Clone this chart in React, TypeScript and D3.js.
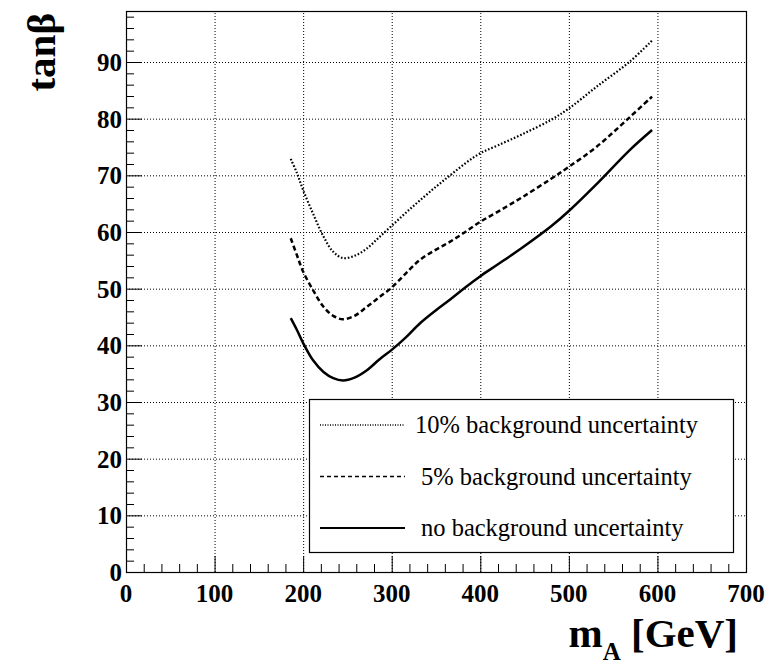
import React from 'react';
import * as d3 from 'd3';

// mA grid (GeV) shared by the three curves
const massPoints = [186, 193, 200, 211, 223, 234, 245, 258, 272, 286, 300, 316, 332, 350, 366, 383, 400, 420, 448, 480, 500, 531, 569, 594];

const tanb10 = [72.9, 70.4, 67.4, 63.3, 59.2, 56.5, 55.4, 55.8, 57.1, 59.1, 61.1, 63.4, 65.6, 68.0, 70.0, 72.1, 73.9, 75.3, 77.3, 79.8, 81.8, 85.6, 90.1, 93.8];
const tanb5 = [58.9, 55.9, 53.0, 49.8, 46.8, 45.2, 44.6, 45.2, 46.8, 48.5, 50.2, 52.7, 55.1, 56.9, 58.3, 60.0, 61.8, 63.6, 66.2, 69.4, 71.5, 75.0, 80.3, 83.9];
const tanb0 = [44.8, 42.7, 40.4, 37.4, 35.3, 34.2, 33.8, 34.3, 35.6, 37.5, 39.2, 41.4, 43.9, 46.2, 48.1, 50.2, 52.2, 54.3, 57.3, 61.0, 63.7, 68.4, 74.5, 78.0];

const seriesLabels = ['10% background uncertainty', '5% background uncertainty', 'no background uncertainty'];
const xTicks = [0, 100, 200, 300, 400, 500, 600, 700];
const yTicks = [0, 10, 20, 30, 40, 50, 60, 70, 80, 90];

const W = 770;
const H = 667;
const margin = { left: 126, right: 24, top: 11, bottom: 95 };
const font = '"Liberation Serif", "Times New Roman", serif';

function App() {
  const ref = React.useRef<SVGSVGElement>(null);

  React.useEffect(() => {
    const svg = d3.select(ref.current);
    svg.selectAll('*').remove();

    const x = d3.scaleLinear().domain([0, 700]).range([margin.left, W - margin.right]);
    const y = d3.scaleLinear().domain([0, 99]).range([H - margin.bottom, margin.top]);
    const [x0, x1] = x.range();
    const [y0, y1] = y.range();

    // grid
    const grid = svg.append('g')
      .attr('stroke', '#000')
      .attr('stroke-width', 1)
      .attr('stroke-dasharray', '1,2');
    grid.selectAll('line.vx')
      .data(xTicks.filter(v => v > 0 && v < 700))
      .enter().append('line')
      .attr('x1', d => x(d) + 0.5).attr('x2', d => x(d) + 0.5)
      .attr('y1', y0).attr('y2', y1);
    grid.selectAll('line.hy')
      .data(yTicks.filter(v => v > 0))
      .enter().append('line')
      .attr('x1', x0).attr('x2', x1)
      .attr('y1', d => y(d) + 0.5).attr('y2', d => y(d) + 0.5);

    // ticks
    const ticks = svg.append('g').attr('stroke', '#000').attr('stroke-width', 1);
    d3.range(0, 701, 20).forEach(v => {
      const len = v % 100 === 0 ? 16 : 8;
      ticks.append('line')
        .attr('x1', x(v) + 0.5).attr('x2', x(v) + 0.5)
        .attr('y1', y0).attr('y2', y0 - len);
    });
    d3.range(0, 99, 2).forEach(v => {
      const len = v % 10 === 0 ? 16 : 8;
      ticks.append('line')
        .attr('x1', x0).attr('x2', x0 + len)
        .attr('y1', y(v) + 0.5).attr('y2', y(v) + 0.5);
    });

    // frame
    svg.append('rect')
      .attr('x', x0 + 0.5).attr('y', y1 + 0.5)
      .attr('width', x1 - x0).attr('height', y0 - y1)
      .attr('fill', 'none').attr('stroke', '#000').attr('stroke-width', 1.2);

    // tick labels
    svg.append('g').selectAll('text')
      .data(xTicks).enter().append('text')
      .attr('x', d => x(d)).attr('y', y0 + 30)
      .attr('text-anchor', 'middle')
      .style('font-family', font).style('font-weight', 'bold').style('font-size', '25px')
      .text(d => d);
    svg.append('g').selectAll('text')
      .data(yTicks).enter().append('text')
      .attr('x', x0 - 4).attr('y', d => y(d) + 9)
      .attr('text-anchor', 'end')
      .style('font-family', font).style('font-weight', 'bold').style('font-size', '25px')
      .text(d => d);

    // axis titles
    const xt = svg.append('text')
      .attr('x', 738).attr('y', 647)
      .attr('text-anchor', 'end')
      .style('font-family', font).style('font-weight', 'bold').style('font-size', '41px');
    xt.append('tspan').text('m');
    xt.append('tspan').attr('dy', 13).style('font-size', '25px').text('A');
    xt.append('tspan').attr('dy', -13).text(' [GeV]');

    svg.append('text')
      .attr('transform', 'translate(55,13) rotate(-90)')
      .attr('text-anchor', 'end')
      .style('font-family', font).style('font-weight', 'bold').style('font-size', '41px')
      .text('tanβ');

    // curves
    const styles = [
      { data: tanb10, dash: '1.6,1.9', width: 2.2 },
      { data: tanb5, dash: '5,3', width: 2.5 },
      { data: tanb0, dash: null, width: 2.5 },
    ];
    const line = d3.line<number>()
      .x((_, i) => x(massPoints[i]))
      .y(d => y(d))
      .curve(d3.curveCatmullRom.alpha(0.5));
    styles.forEach(s => {
      svg.append('path')
        .attr('d', line(s.data))
        .attr('fill', 'none')
        .attr('stroke', '#000')
        .attr('stroke-width', s.width)
        .attr('stroke-dasharray', s.dash);
    });

    // legend
    const lg = svg.append('g');
    lg.append('rect')
      .attr('x', 309.5).attr('y', 399.5).attr('width', 424).attr('height', 153)
      .attr('fill', '#fff').attr('stroke', '#000').attr('stroke-width', 1.2);
    const legendStyles = [
      { dash: '1,1.5', width: 1.3, tx: 415 },
      { dash: '4,3', width: 1.6, tx: 421 },
      { dash: null, width: 2, tx: 421 },
    ];
    seriesLabels.forEach((lab, i) => {
      const cy = 425 + i * 51.5;
      lg.append('line')
        .attr('x1', 320).attr('x2', 405).attr('y1', cy).attr('y2', cy)
        .attr('stroke', '#000')
        .attr('stroke-width', legendStyles[i].width)
        .attr('stroke-dasharray', legendStyles[i].dash);
      lg.append('text')
        .attr('x', legendStyles[i].tx).attr('y', cy + 8)
        .style('font-family', font).style('font-size', '24.5px')
        .text(lab);
    });
  }, []);

  return (
    <svg ref={ref} width={W} height={H} style={{ position: 'absolute', left: 0, top: 0, background: '#fff' }} />
  );
}

export default App;
